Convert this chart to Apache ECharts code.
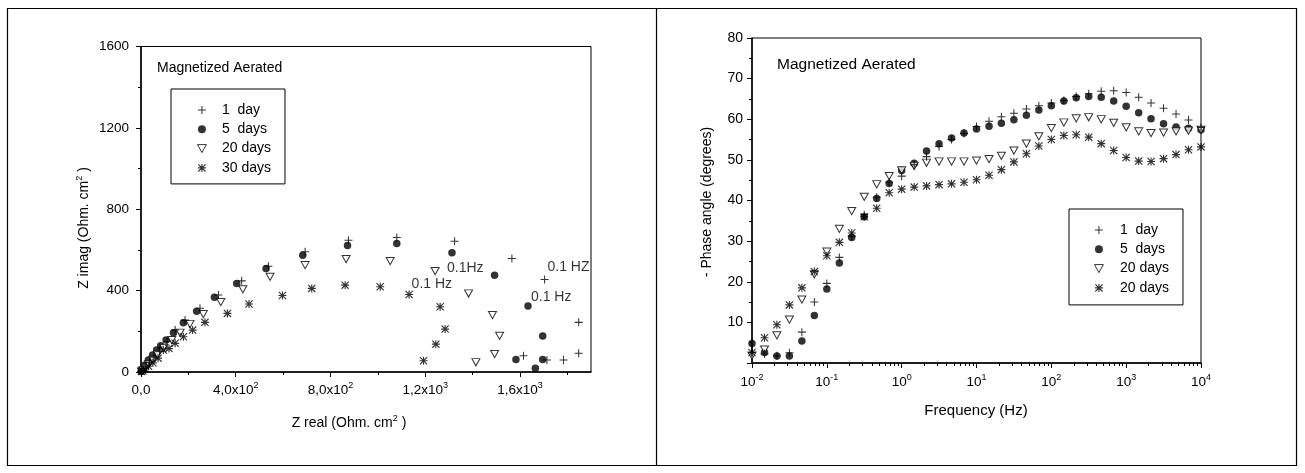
<!DOCTYPE html>
<html>
<head>
<meta charset="utf-8">
<script src="https://cdn.jsdelivr.net/npm/echarts@6/dist/echarts.min.js"></script>
<style>html,body{margin:0;padding:0;background:#fff}#c{width:1305px;height:473px}</style>
</head>
<body>
<div id="c"></div>
<script>
// ---------- DATA ----------
const nyqNames = ['1  day', '5  days', '20 days', '30 days'];
const bodeNames = ['1  day', '5  days', '20 days', '20 days '];

// Nyquist: [Z real, Z imag] (Ohm.cm2)
const nyq1day = [[2,3],[6,9],[12,17],[22,30],[36,48],[54,72],[78,102],[110,150],[144,206],[186,255],[249,313],[327,378],[425,448],[538,520],[693,591],[876,648],[1080,661],[1324,643],[1566,558],[1704,455],[1848,244],[1848,92],[1784,59],[1714,59],[1615,80]];
const nyq5days = [[1,2],[3,10],[17,34],[31,59],[49,83],[66,108],[83,129],[106,157],[137,193],[179,242],[235,299],[310,367],[404,435],[528,509],[683,574],[872,622],[1080,632],[1313,586],[1493,476],[1634,324],[1696,177],[1696,62],[1665,18],[1583,62]];
const nyq20days = [[2,2],[8,8],[18,20],[32,38],[50,60],[70,85],[96,118],[130,157],[165,193],[207,236],[263,285],[337,344],[430,406],[545,468],[693,525],[866,555],[1052,545],[1242,496],[1383,386],[1484,280],[1514,178],[1493,88],[1414,48]];
const nyq30days = [[2,2],[8,6],[18,15],[32,28],[50,45],[72,68],[94,108],[118,115],[144,141],[179,173],[218,206],[270,244],[365,288],[456,334],[597,376],[721,411],[862,427],[1010,419],[1132,381],[1263,321],[1284,211],[1245,137],[1193,55]];
const nyqNotes = [
  {name: '0.1Hz', value: [1369, 511]},
  {name: '0.1 Hz', value: [1228, 431]},
  {name: '0.1 HZ', value: [1805, 514]},
  {name: '0.1 Hz', value: [1732, 367]}
];
const nyqXTicks = [0, 400, 800, 1200, 1600];
const nyqXMinor = [200, 600, 1000, 1400, 1800];

// Bode: frequency (Hz) and -phase (degrees)
const freq = [0.01,0.0147,0.0215,0.0316,0.0464,0.0681,0.1,0.147,0.215,0.316,0.464,0.681,1,1.47,2.15,3.16,4.64,6.81,10,14.7,21.5,31.6,46.4,68.1,100,147,215,316,464,681,1000,1470,2150,3160,4640,6810,10000];
const phase1day = [2.5,2.2,1.8,2.5,7.6,15.0,19.6,26.0,31.2,36.5,40.8,44.5,46.0,48.8,50.8,53.3,55.0,56.5,58.2,59.5,60.6,61.5,62.5,63.3,64.0,64.6,65.6,66.3,66.9,67.0,66.6,65.4,64.0,62.7,61.3,59.8,58.0];
const phase5days = [4.8,2.6,1.7,1.7,5.4,11.7,18.2,24.6,30.9,36.0,40.5,44.2,47.4,49.2,52.2,54.0,55.4,56.6,57.6,58.3,59.0,59.9,61.0,62.3,63.3,64.5,65.3,65.6,65.4,64.5,63.2,61.6,60.1,58.9,58.1,57.8,57.4];
const phase20days = [1.8,3.3,6.8,10.7,15.6,21.8,27.4,33.0,37.4,40.9,44.0,46.0,47.4,48.5,49.3,49.6,49.6,49.6,49.8,50.2,51.0,52.3,54.0,55.8,57.8,59.2,60.2,60.5,60.0,59.1,58.0,57.0,56.6,56.7,57.0,57.2,57.4];
const phase30days = [2.6,6.2,9.4,14.3,18.5,22.5,26.4,29.7,32.0,36.0,38.1,41.9,42.8,43.3,43.6,43.9,44.1,44.5,45.1,46.2,47.6,49.5,51.5,53.4,55.0,56.0,56.2,55.6,54.0,52.3,50.6,49.7,49.6,50.3,51.3,52.5,53.2];
const freqTicks = [0.01, 0.1, 1, 10, 100, 1000, 10000];
const freqMinor = [0.02,0.03,0.04,0.05,0.06,0.07,0.08,0.09,0.2,0.3,0.4,0.5,0.6,0.7,0.8,0.9,2,3,4,5,6,7,8,9,20,30,40,50,60,70,80,90,200,300,400,500,600,700,800,900,2000,3000,4000,5000,6000,7000,8000,9000];

// ---------- STYLE ----------
const FONT = '"Liberation Sans", Arial, Helvetica, sans-serif';
const K = '#000';
const PLUS = 'path://M4.35,0H5.65V4.35H10V5.65H5.65V10H4.35V5.65H0V4.35H4.35Z';
const STAR = 'path://M4.3,0H5.7V10H4.3Z M0,4.3H10V5.7H0Z M1,0L10,9L9,10L0,1Z M9,0L10,1L1,10L0,9Z';
const TRI = 'path://M0,0H10L5,9Z';
const richSup = {
  b: {fontSize: 13.5, lineHeight: 18, color: K, fontFamily: FONT},
  s: {fontSize: 9, lineHeight: 9, verticalAlign: 'top', color: K, fontFamily: FONT}
};
const richTitle = {
  s: {fontSize: 9, lineHeight: 9, verticalAlign: 'top', color: K, fontFamily: FONT}
};

function sciComma(v) {
  if (v === 0) return '{b|0,0}';
  const e = Math.floor(Math.log10(v) + 1e-9);
  const m = (v / Math.pow(10, e)).toFixed(1).replace('.', ',');
  return '{b|' + m + 'x10}{s|' + e + '}';
}
function powLabel(v) {
  const e = Math.round(Math.log10(v));
  return '{b|10}{s|' + e + '}';
}

const symbols = {
  '1  day': {symbol: PLUS, symbolSize: 8, itemStyle: {color: K}},
  '5  days': {symbol: 'circle', symbolSize: 7.5, itemStyle: {color: K}},
  '20 days': {symbol: TRI, symbolSize: [8, 7.2], itemStyle: {color: '#fff', borderColor: K, borderWidth: 1}},
  '30 days': {symbol: STAR, symbolSize: 8, itemStyle: {color: K}}
};
function scat(name, styleKey, data, xi, yi) {
  const s = symbols[styleKey];
  return Object.assign({type: 'scatter', name: name, data: data, xAxisIndex: xi, yAxisIndex: yi,
    silent: true, animation: false}, s);
}
function zip(xs, ys) { return xs.map((x, i) => [x, ys[i]]); }

const valueAxisBase = {
  axisLine: {show: true, onZero: false, lineStyle: {color: K, width: 1.5}},
  splitLine: {show: false},
  axisLabel: {color: K, fontFamily: FONT, fontSize: 13.5}
};

const legendCommon = {
  orient: 'vertical', selectedMode: false,
  itemHeight: 8, itemGap: 5.3,
  borderColor: K, borderWidth: 1,
  itemStyle: {borderWidth: 0},
  textStyle: {fontSize: 14, color: K, fontFamily: FONT, lineHeight: 14}
};

const option = {
  backgroundColor: '#fff',
  animation: false,
  grid: [
    {left: 141, top: 46.5, width: 450, height: 325.5, show: true, borderColor: K, borderWidth: 1, backgroundColor: 'transparent'},
    {left: 752, top: 38, width: 449, height: 325, show: true, borderColor: K, borderWidth: 1, backgroundColor: 'transparent'}
  ],
  xAxis: [
    Object.assign({}, valueAxisBase, {
      type: 'value', gridIndex: 0, min: 0, max: 1900, position: 'bottom',
      axisTick: {show: true, length: 5, customValues: nyqXTicks, lineStyle: {color: K, width: 1}},
      axisLabel: {color: K, margin: 9, customValues: nyqXTicks, formatter: sciComma, rich: richSup}
    }),
    {
      type: 'value', gridIndex: 0, min: 0, max: 1900, position: 'bottom',
      axisLine: {show: false}, splitLine: {show: false}, axisLabel: {show: false},
      axisTick: {show: true, length: 3, customValues: nyqXMinor, lineStyle: {color: K, width: 1}}
    },
    Object.assign({}, valueAxisBase, {
      type: 'log', logBase: 10, gridIndex: 1, min: 0.01, max: 10000, position: 'bottom',
      axisTick: {show: true, length: 5, customValues: freqTicks, lineStyle: {color: K, width: 1}},
      axisLabel: {color: K, margin: 10, customValues: freqTicks, formatter: powLabel, rich: richSup}
    }),
    {
      type: 'log', logBase: 10, gridIndex: 1, min: 0.01, max: 10000, position: 'bottom',
      axisLine: {show: false}, splitLine: {show: false}, axisLabel: {show: false},
      axisTick: {show: true, length: 3, customValues: freqMinor, lineStyle: {color: K, width: 1}}
    }
  ],
  yAxis: [
    Object.assign({}, valueAxisBase, {
      type: 'value', gridIndex: 0, min: 0, max: 1600, interval: 400, position: 'left',
      axisTick: {show: true, length: 5, lineStyle: {color: K, width: 1}},
      minorTick: {show: true, splitNumber: 2, length: 3, lineStyle: {color: K, width: 1}},
      axisLabel: {color: K, fontFamily: FONT, fontSize: 13.5, margin: 12, formatter: v => String(v)}
    }),
    Object.assign({}, valueAxisBase, {
      type: 'value', gridIndex: 1, min: 0, max: 80, interval: 10, position: 'left',
      axisTick: {show: true, length: 5, lineStyle: {color: K, width: 1}},
      minorTick: {show: true, splitNumber: 2, length: 3, lineStyle: {color: K, width: 1}},
      axisLabel: {color: K, fontFamily: FONT, fontSize: 14, margin: 9, formatter: v => (v === 0 ? '' : String(v))}
    })
  ],
  legend: [
    Object.assign({}, legendCommon, {
      left: 171, top: 89, itemWidth: 30,
      data: [{name: '1  day'}, {name: '5  days'}, {name: '20 days', itemStyle: {borderWidth: 1}}, {name: '30 days'}],
      padding: [14, 14, 9, 26]
    }),
    Object.assign({}, legendCommon, {
      left: 1069, top: 209, itemWidth: 32,
      data: [{name: '1  day'}, {name: '5  days'}, {name: '20 days', itemStyle: {borderWidth: 1}}, {name: '20 days '}],
      formatter: n => n.replace(/\s+$/, ''),
      padding: [14, 14, 10, 25]
    })
  ],
  series: [
    scat(nyqNames[1], '5  days', nyq5days, 0, 0),
    scat(nyqNames[2], '20 days', nyq20days, 0, 0),
    scat(nyqNames[3], '30 days', nyq30days, 0, 0),
    scat(nyqNames[0], '1  day', nyq1day, 0, 0),
    {
      type: 'scatter', name: 'notes', xAxisIndex: 0, yAxisIndex: 0, symbolSize: 0, silent: true,
      data: nyqNotes,
      label: {show: true, position: 'inside', formatter: '{b}', color: K, fontFamily: FONT, fontSize: 14}
    },
    scat(bodeNames[1], '5  days', zip(freq, phase5days), 2, 1),
    scat(bodeNames[2], '20 days', zip(freq, phase20days), 2, 1),
    scat(bodeNames[3], '30 days', zip(freq, phase30days), 2, 1),
    scat(bodeNames[0], '1  day', zip(freq, phase1day), 2, 1)
  ],
  graphic: [
    {type: 'rect', silent: true, z: -10, shape: {x: 7.5, y: 8.5, width: 1289, height: 457}, style: {fill: null, stroke: K, lineWidth: 1.2}},
    {type: 'line', silent: true, shape: {x1: 656.5, y1: 8.5, x2: 656.5, y2: 465.5}, style: {stroke: K, lineWidth: 1.2}},
    {type: 'text', silent: true, x: 157, y: 68, style: {text: 'Magnetized Aerated', fill: K, font: '14px ' + FONT, align: 'left', verticalAlign: 'middle'}},
    {type: 'text', silent: true, x: 777, y: 65, style: {text: 'Magnetized Aerated', fill: K, font: '15.5px ' + FONT, align: 'left', verticalAlign: 'middle'}},
    {type: 'text', silent: true, x: 349, y: 423, style: {text: 'Z real (Ohm. cm{s|2} )', rich: richTitle, fill: K, fontSize: 14, fontFamily: FONT, lineHeight: 18, align: 'center', verticalAlign: 'middle'}},
    {type: 'text', silent: true, x: 84, y: 228, rotation: Math.PI / 2, style: {text: 'Z imag (Ohm. cm{s|2} )', rich: richTitle, fill: K, fontSize: 14, fontFamily: FONT, lineHeight: 18, align: 'center', verticalAlign: 'middle'}},
    {type: 'text', silent: true, x: 707, y: 202, rotation: Math.PI / 2, style: {text: '- Phase angle (degrees)', fill: K, fontSize: 14, fontFamily: FONT, align: 'center', verticalAlign: 'middle'}},
    {type: 'text', silent: true, x: 976, y: 411, style: {text: 'Frequency (Hz)', fill: K, fontSize: 15, fontFamily: FONT, align: 'center', verticalAlign: 'middle'}}
  ]
};

const chart = echarts.init(document.getElementById('c'), null, {renderer: 'canvas'});
chart.setOption(option);
</script>
</body>
</html>
